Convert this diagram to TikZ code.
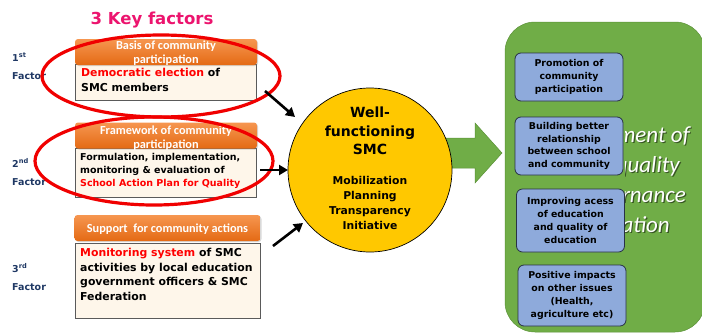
\documentclass[tikz,border=0pt]{standalone}
\usepackage{fontspec}
\setmainfont{DejaVu Sans}
\newfontfamily\calfont{Carlito}
\usetikzlibrary{arrows.meta,shapes.geometric,shadows}
\definecolor{keypink}{RGB}{236,20,110}
\definecolor{navy}{RGB}{31,56,100}
\definecolor{orTop}{RGB}{246,150,80}
\definecolor{orBot}{RGB}{228,106,20}
\definecolor{cream}{RGB}{254,246,234}
\definecolor{boxgray}{RGB}{90,90,90}
\definecolor{ellred}{RGB}{240,0,0}
\definecolor{smcyellow}{RGB}{255,200,0}
\definecolor{grn}{RGB}{112,173,71}
\definecolor{grndark}{RGB}{90,145,55}
\definecolor{bluebox}{RGB}{142,170,219}
\definecolor{blueborder}{RGB}{40,50,70}
\definecolor{txtred}{RGB}{255,0,0}
\definecolor{shadowgrn}{RGB}{55,85,35}
\begin{document}
\begin{tikzpicture}[x=1pt,y=-1pt,
  hdrbox/.style={rectangle,rounded corners=3pt,top color=orTop,bottom color=orBot,draw=none,
    minimum width=#1,minimum height=26pt,inner sep=0pt,
    drop shadow={shadow xshift=1pt,shadow yshift=-1pt,opacity=0.3}},
  hdrtxt/.style={text=white,font=\calfont\bfseries\fontsize{12.3}{13.5}\selectfont,align=center,inner sep=0pt},
  creambox/.style={rectangle,fill=cream,draw=boxgray,line width=0.7pt,inner sep=0pt,minimum width=#1},
  bodytxt/.style={align=left,inner sep=0pt,anchor=north west},
  factortxt/.style={text=navy,font=\bfseries\fontsize{9.5}{18}\selectfont,align=left,inner sep=0pt,anchor=north west},
  redell/.style={ellipse,draw=ellred,line width=3.2pt,inner sep=0pt},
  blkarrow/.style={draw=black,line width=2.6pt,-{Triangle[length=9pt,width=10pt]}},
  bluenode/.style={rectangle,rounded corners=6pt,fill=bluebox,draw=blueborder,line width=0.8pt,
    minimum width=108pt,inner sep=0pt,align=center,font=\bfseries\fontsize{9.4}{12.8}\selectfont},
  bigital/.style={font=\calfont\itshape\fontsize{23}{28}\selectfont,inner sep=0pt,anchor=base east}
]
\useasboundingbox (0,0) rectangle (702,335);
\clip (0,0) rectangle (702,335);

% title
\node[text=keypink,font=\bfseries\fontsize{16.5}{20}\selectfont,inner sep=0pt] (title) at (152,20) {3 Key factors};

% factor labels
\node[factortxt] (f1) at (12,53) {1\textsuperscript{st}\\Factor};
\node[factortxt] (f2) at (12,158) {2\textsuperscript{nd}\\Factor};
\node[factortxt] (f3) at (12,263) {3\textsuperscript{rd}\\Factor};

% factor 1
\node[creambox=181pt,minimum height=36pt] (c1) at (165.5,82.5) {};
\node[hdrbox=182pt] (h1) at (166,52) {};
\node[hdrtxt] (h1t) at (166,53) {Basis of community\\participation};
\node[bodytxt,font=\bfseries\fontsize{10.9}{15}\selectfont] (c1t) at (81,68) {\textcolor{txtred}{Democratic election} of\\SMC members};

% factor 2
\node[creambox=181pt,minimum height=49pt] (c2) at (165.5,172.5) {};
\node[hdrbox=182pt] (h2) at (166,135.5) {};
\node[hdrtxt] (h2t) at (166,138) {Framework of community\\participation};
\node[bodytxt,font=\bfseries\fontsize{9.5}{12.6}\selectfont] (c2t) at (80,153.5) {Formulation, implementation,\\monitoring \& evaluation of\\\textcolor{txtred}{School Action Plan for Quality}};

% factor 3
\node[creambox=185pt,minimum height=75pt] (c3) at (167.5,280.5) {};
\node[hdrbox=186pt] (h3) at (167.5,228) {};
\node[hdrtxt] (h3t) at (167.5,229) {Support\ \ for community actions};
\node[bodytxt,font=\bfseries\fontsize{10.9}{14.7}\selectfont] (c3t) at (80,248) {\textcolor{txtred}{Monitoring system} of SMC\\activities by local education\\government officers \& SMC\\Federation};

% red ellipses
\node[redell,minimum width=238pt,minimum height=82pt] (e1) at (161,76) {};
\node[redell,minimum width=238pt,minimum height=88pt] (e2) at (154,161) {};

% green area
\node[rectangle,rounded corners=30pt,fill=grn,draw=grndark,line width=0.5pt,
  minimum width=200pt,minimum height=310pt,inner sep=0pt] (goal) at (605,177) {};
\begin{scope}
  \clip (625,100) rectangle (702,250);
  \node[bigital,text=shadowgrn] (g1s) at (691.2,143.2) {ment of};
  \node[bigital,text=white] (g1) at (690,142) {ment of};
  \node[bigital,text=shadowgrn] (g2s) at (681.2,173.2) {quality};
  \node[bigital,text=white] (g2) at (680,172) {quality};
  \node[bigital,text=shadowgrn] (g3s) at (687.2,203.2) {rnance};
  \node[bigital,text=white] (g3) at (686,202) {rnance};
  \node[bigital,text=shadowgrn] (g4s) at (671.2,233.2) {ation};
  \node[bigital,text=white] (g4) at (670,232) {ation};
\end{scope}

% green block arrow
\coordinate (ga1) at (440,138);
\draw[fill=grn,draw=grndark,line width=0.5pt] (ga1) -- (475,138) -- (475,123) -- (502,153) -- (475,183) -- (475,168) -- (440,168) -- cycle;

% SMC circle
\node[circle,fill=smcyellow,draw=black,line width=0.7pt,minimum size=164pt,inner sep=0pt] (smc) at (370,170) {};
\node[font=\bfseries\fontsize{14}{18.5}\selectfont,align=center,inner sep=0pt] (smct) at (370,131) {Well-\\functioning\\SMC};
\node[font=\bfseries\fontsize{10.8}{15}\selectfont,align=center,inner sep=0pt] (smcl) at (370,203) {Mobilization\\Planning\\Transparency\\Initiative};

% black arrows
\coordinate (a1s) at (265,91);
\coordinate (a1e) at (295,117);
\coordinate (a2s) at (260,170);
\coordinate (a2e) at (288,170);
\coordinate (a3s) at (273,246);
\coordinate (a3e) at (303,223);
\draw[blkarrow] (a1s) -- (a1e);
\draw[blkarrow] (a2s) -- (a2e);
\draw[blkarrow] (a3s) -- (a3e);

% blue boxes
\node[bluenode,minimum height=48pt] (b1) at (569,77) {Promotion of\\community\\participation};
\node[bluenode,minimum height=58pt] (b2) at (569,146) {Building better\\relationship\\between school\\and community};
\node[bluenode,minimum height=63pt] (b3) at (570.5,220.5) {Improving acess\\of education\\and quality of\\education};
\node[bluenode,minimum height=61pt] (b4) at (572,295.5) {Positive impacts\\on other issues\\(Health,\\agriculture etc)};
\end{tikzpicture}
\end{document}
